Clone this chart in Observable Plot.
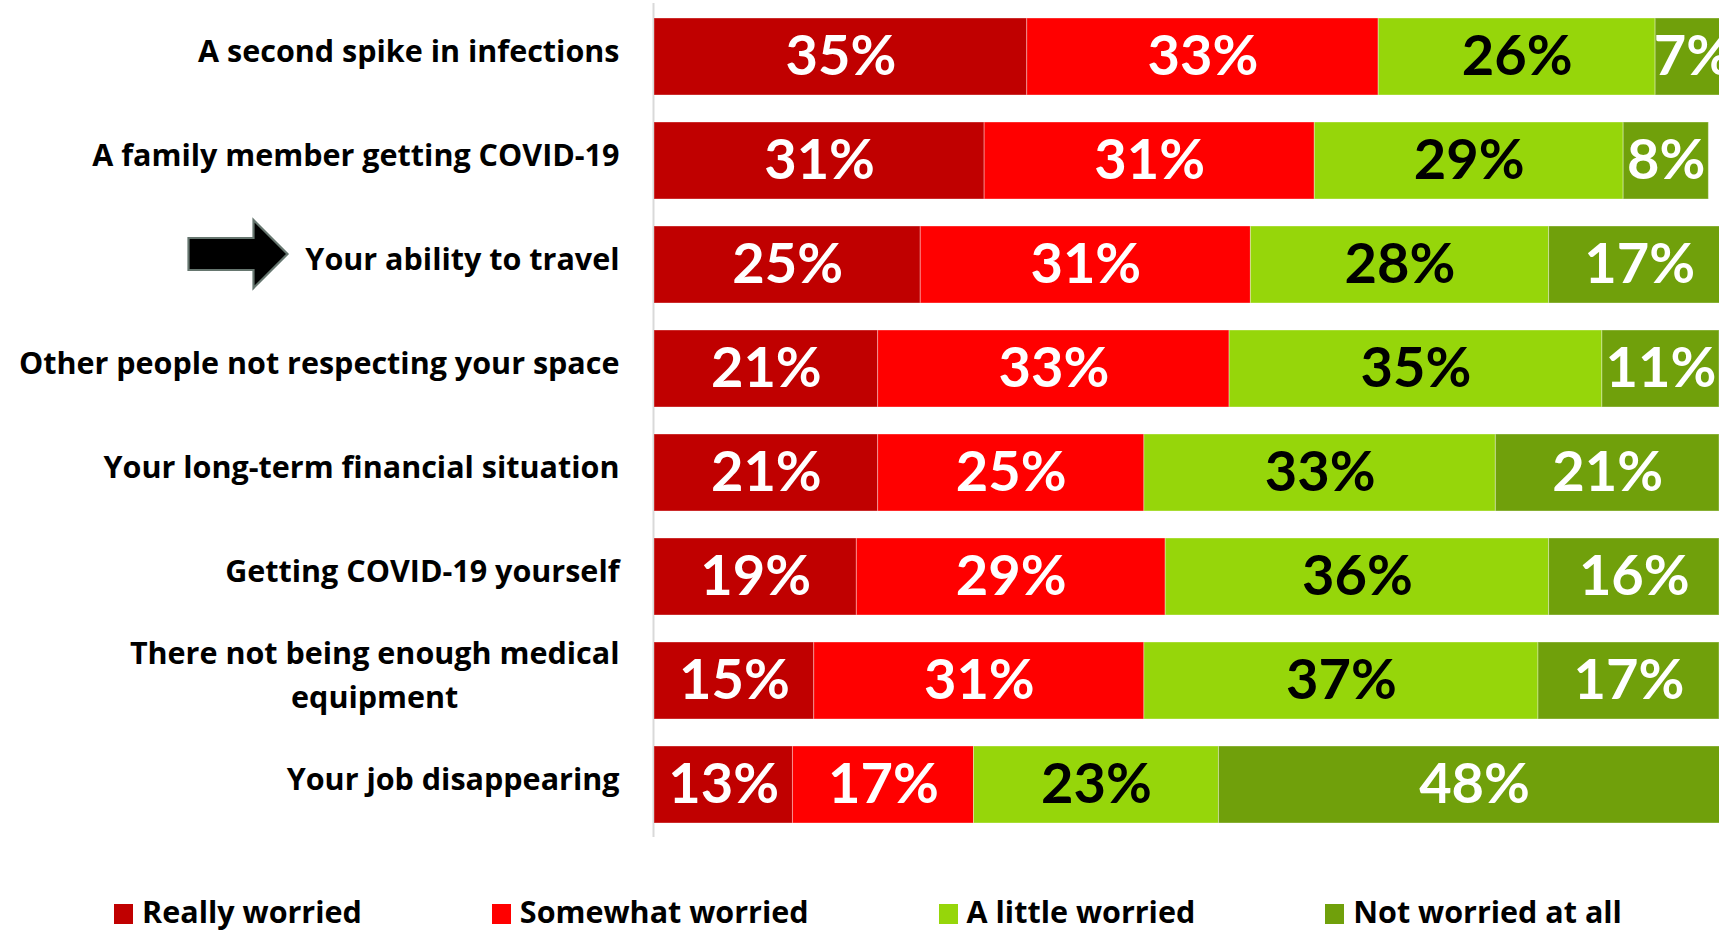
<!DOCTYPE html>
<html>
<head>
<meta charset="utf-8">
<script src="https://cdn.jsdelivr.net/npm/d3@7"></script>
<script src="https://cdn.jsdelivr.net/npm/@observablehq/plot@0.6"></script>
<style>
  html, body { margin: 0; padding: 0; background: #fff; }
  body { width: 1719px; height: 931px; overflow: hidden; font-family: "Open Sans", Lato, sans-serif; }
  #legend { display: flex; justify-content: center; gap: 130px; margin-top: 52px; padding-left: 17px;
    font-family: "Open Sans", sans-serif; font-weight: 700; font-size: 30.5px; line-height: 38px; color: #000; }
  .item { display: flex; align-items: center; white-space: nowrap; }
  .sw { width: 19px; height: 20px; margin-right: 9px; margin-top: 6px; }
</style>
</head>
<body>
<div id="chart"></div>
<div id="legend"></div>
<script>
const categories = [
  "A second spike in infections",
  "A family member getting COVID-19",
  "Your ability to travel",
  "Other people not respecting your space",
  "Your long-term financial situation",
  "Getting COVID-19 yourself",
  "There not being enough medical\nequipment",
  "Your job disappearing"
];
const seriesNames = ["Really worried", "Somewhat worried", "A little worried", "Not worried at all"];
const reallyWorried   = [35, 31, 25, 21, 21, 19, 15, 13];
const somewhatWorried = [33, 31, 31, 33, 25, 29, 31, 17];
const littleWorried   = [26, 29, 28, 35, 33, 36, 37, 23];
const notWorried      = [7, 8, 17, 11, 21, 16, 17, 48];
const seriesColors = ["#C00000", "#FF0000", "#96D60A", "#70A00B"];
const labelColors  = ["#ffffff", "#ffffff", "#000000", "#ffffff"];
const highlighted = "Your ability to travel";

const seriesValues = [reallyWorried, somewhatWorried, littleWorried, notWorried];
const data = [];
categories.forEach((c, i) => {
  seriesNames.forEach((s, j) => {
    data.push({category: c, series: s, value: seriesValues[j][i], labelColor: labelColors[j]});
  });
});

// block-arrow symbol (drawn centred on the dot position)
const arrowSymbol = {
  draw(ctx) {
    const L = -49.5, H = 15.5, T = 49.5;
    ctx.moveTo(L, -16); ctx.lineTo(H, -16); ctx.lineTo(H, -34); ctx.lineTo(T, 0);
    ctx.lineTo(H, 34); ctx.lineTo(H, 16); ctx.lineTo(L, 16); ctx.closePath();
  }
};

const chart = Plot.plot({
  width: 1719,
  height: 840,
  marginLeft: 654,
  marginRight: 0,
  marginTop: 3,
  marginBottom: 3,
  style: {fontFamily: "'Open Sans', Lato, sans-serif", background: "#fff"},
  x: {domain: [0, 100], axis: null},
  y: {domain: categories, paddingInner: 0.26, paddingOuter: 0.125, label: null},
  color: {domain: seriesNames, range: seriesColors},
  marks: [
    Plot.ruleX([0], {stroke: "#d9d9d9", strokeWidth: 2, dx: -1}),
    Plot.barX(data, Plot.stackX({
      y: "category", x: "value", fill: "series", order: null,
      stroke: "#ffffff", strokeOpacity: 0.35, strokeWidth: 1, clip: true
    })),
    Plot.text(data, Plot.stackX({
      y: "category", x: "value", order: null,
      text: d => d.value + "%", fill: "labelColor",
      fontFamily: "Lato, sans-serif",
      fontSize: 56, fontWeight: 700, clip: true
    })),
    Plot.axisY({
      tickSize: 0, tickPadding: 35, fontSize: 30.5, fontWeight: 700,
      lineHeight: 1.45, label: null, fill: "#000", color: "#000", dy: -9
    }),
    Plot.dot([highlighted], {
      y: d => d, frameAnchor: "left", dx: -416.5, dy: -11,
      symbol: arrowSymbol, fill: "#000", stroke: "#66766f", strokeWidth: 2.2
    })
  ]
});
document.getElementById("chart").appendChild(chart);

// centre the lines of multi-line tick labels
chart.querySelectorAll('g[aria-label="y-axis tick label"] text').forEach(t => {
  const spans = t.querySelectorAll("tspan");
  if (spans.length > 1) {
    const b = t.getBBox();
    const cx = b.x + b.width / 2;
    t.setAttribute("text-anchor", "middle");
    spans.forEach(s => s.setAttribute("x", cx));
  }
});

const legend = document.getElementById("legend");
seriesNames.forEach((s, j) => {
  const it = document.createElement("div");
  it.className = "item";
  const sw = document.createElement("span");
  sw.className = "sw";
  sw.style.background = seriesColors[j];
  const tx = document.createElement("span");
  tx.textContent = s;
  it.appendChild(sw); it.appendChild(tx);
  legend.appendChild(it);
});
</script>
</body>
</html>
